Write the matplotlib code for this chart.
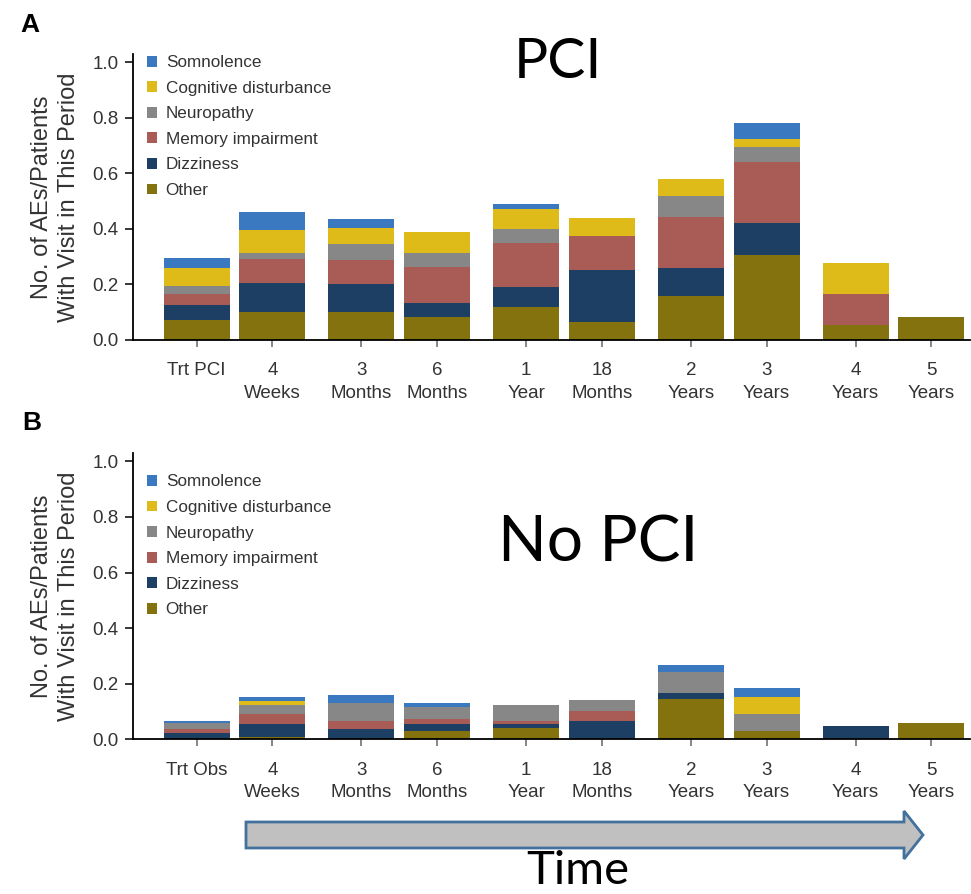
import matplotlib
matplotlib.use("Agg")
import matplotlib.pyplot as plt
from matplotlib.patches import Patch, FancyArrow
import numpy as np

plt.rcParams["font.family"] = ["Liberation Sans", "DejaVu Sans"]

# x categories (visit periods)
labels_pci = ["Trt PCI", "4\nWeeks", "3\nMonths", "6\nMonths", "1\nYear",
              "18\nMonths", "2\nYears", "3\nYears", "4\nYears", "5\nYears"]
labels_obs = ["Trt Obs", "4\nWeeks", "3\nMonths", "6\nMonths", "1\nYear",
              "18\nMonths", "2\nYears", "3\nYears", "4\nYears", "5\nYears"]

# stacking order bottom -> top
ae_types = ["Other", "Dizziness", "Memory impairment", "Neuropathy",
            "Cognitive disturbance", "Somnolence"]
ae_colors = ["#84720f", "#1d3f63", "#a85c55", "#878787", "#dfbb1a", "#3a78bf"]

# panel A - PCI
pci_other = [0.072, 0.102, 0.100, 0.082, 0.118, 0.064, 0.158, 0.306, 0.054, 0.083]
pci_dizziness = [0.054, 0.104, 0.101, 0.050, 0.072, 0.187, 0.101, 0.114, 0.0, 0.0]
pci_memory = [0.038, 0.084, 0.087, 0.132, 0.160, 0.124, 0.182, 0.220, 0.110, 0.0]
pci_neuropathy = [0.031, 0.022, 0.056, 0.048, 0.048, 0.0, 0.078, 0.054, 0.0, 0.0]
pci_cognitive = [0.063, 0.084, 0.058, 0.075, 0.072, 0.064, 0.061, 0.030, 0.113, 0.0]
pci_somnolence = [0.036, 0.066, 0.034, 0.0, 0.018, 0.0, 0.0, 0.057, 0.0, 0.0]

# panel B - no PCI (observation)
obs_other = [0.0, 0.009, 0.0, 0.030, 0.042, 0.0, 0.146, 0.030, 0.0, 0.058]
obs_dizziness = [0.024, 0.045, 0.037, 0.024, 0.013, 0.067, 0.022, 0.0, 0.048, 0.0]
obs_memory = [0.012, 0.037, 0.029, 0.019, 0.012, 0.036, 0.0, 0.0, 0.0, 0.0]
obs_neuropathy = [0.022, 0.031, 0.065, 0.043, 0.057, 0.039, 0.074, 0.061, 0.0, 0.0]
obs_cognitive = [0.0, 0.015, 0.0, 0.0, 0.0, 0.0, 0.0, 0.060, 0.0, 0.0]
obs_somnolence = [0.009, 0.014, 0.030, 0.014, 0.0, 0.0, 0.027, 0.033, 0.0, 0.0]

TXT = "#333333"
W, H = 971, 894


def draw_panel(ax, labels, series, legend_top):
    n = len(labels)
    idx = np.arange(n)
    pos = idx + (idx // 2) * 0.176  # bars come in pairs
    bottom = np.zeros(n)
    for vals, col in zip(series, ae_colors):
        ax.bar(pos, vals, width=0.87, bottom=bottom, color=col, linewidth=0)
        bottom += np.array(vals)

    ax.set_xlim(-0.845, 10.215)
    ax.set_ylim(0, 1.03)
    ax.set_yticks(np.arange(0, 1.01, 0.2))
    ax.set_yticklabels([f"{v:.1f}" for v in np.arange(0, 1.01, 0.2)])
    ax.set_xticks(pos)
    ax.set_xticklabels(labels, linespacing=1.45, va="top")
    for s in ["top", "right"]:
        ax.spines[s].set_visible(False)
    for s in ["left", "bottom"]:
        ax.spines[s].set_linewidth(1.3)
    ax.tick_params(axis="y", length=6, width=1.1, pad=4, labelsize=13.5, labelcolor=TXT)
    ax.tick_params(axis="x", length=5, width=1.1, color="#666666", pad=11,
                   labelsize=13.5, labelcolor=TXT)
    ax.set_ylabel("No. of AEs/Patients\nWith Visit in This Period", fontsize=17,
                  color=TXT, linespacing=1.3, va="center")
    ax.yaxis.set_label_coords(-0.092, 0.5)

    handles = [Patch(facecolor=c, edgecolor="none") for c in ae_colors][::-1]
    ax.legend(handles, ae_types[::-1], loc="upper left", bbox_to_anchor=(0.017, legend_top),
              frameon=False, fontsize=12.3, handlelength=0.6, handleheight=0.6,
              handletextpad=0.5, labelspacing=0.62, borderpad=0, borderaxespad=0,
              labelcolor=TXT)


fig = plt.figure(figsize=(W / 100, H / 100), dpi=100)
ax_a = fig.add_axes([132.7 / W, (H - 340) / H, (970 - 132.7) / W, 286.3 / H])
ax_b = fig.add_axes([132.7 / W, (H - 739.3) / H, (970 - 132.7) / W, 286.3 / H])

draw_panel(ax_a, labels_pci, [pci_other, pci_dizziness, pci_memory, pci_neuropathy,
                              pci_cognitive, pci_somnolence], 0.995)
draw_panel(ax_b, labels_obs, [obs_other, obs_dizziness, obs_memory, obs_neuropathy,
                              obs_cognitive, obs_somnolence], 0.925)

fig.text(20 / W, 1 - 13 / H, "A", fontsize=19, fontweight="bold", va="top")
fig.text(22 / W, 1 - 411 / H, "B", fontsize=19, fontweight="bold", va="top")

fig.text(558 / W, 1 - 62 / H, "PCI", fontsize=41, family="Lato", ha="center", va="center")
fig.text(598 / W, 1 - 543 / H, "No PCI", fontsize=46, family="Lato", ha="center", va="center")

arrow = FancyArrow(246 / W, 1 - 835 / H, (923 - 246) / W, 0, width=26 / H,
                   head_width=48 / H, head_length=19 / W, length_includes_head=True,
                   transform=fig.transFigure, facecolor="#c0c0c0", edgecolor="#41719c",
                   linewidth=2)
fig.add_artist(arrow)
fig.text(578 / W, 0.002, "Time", fontsize=34, family="Lato", ha="center",
         va="bottom")

fig.savefig("out.png", dpi=100)
